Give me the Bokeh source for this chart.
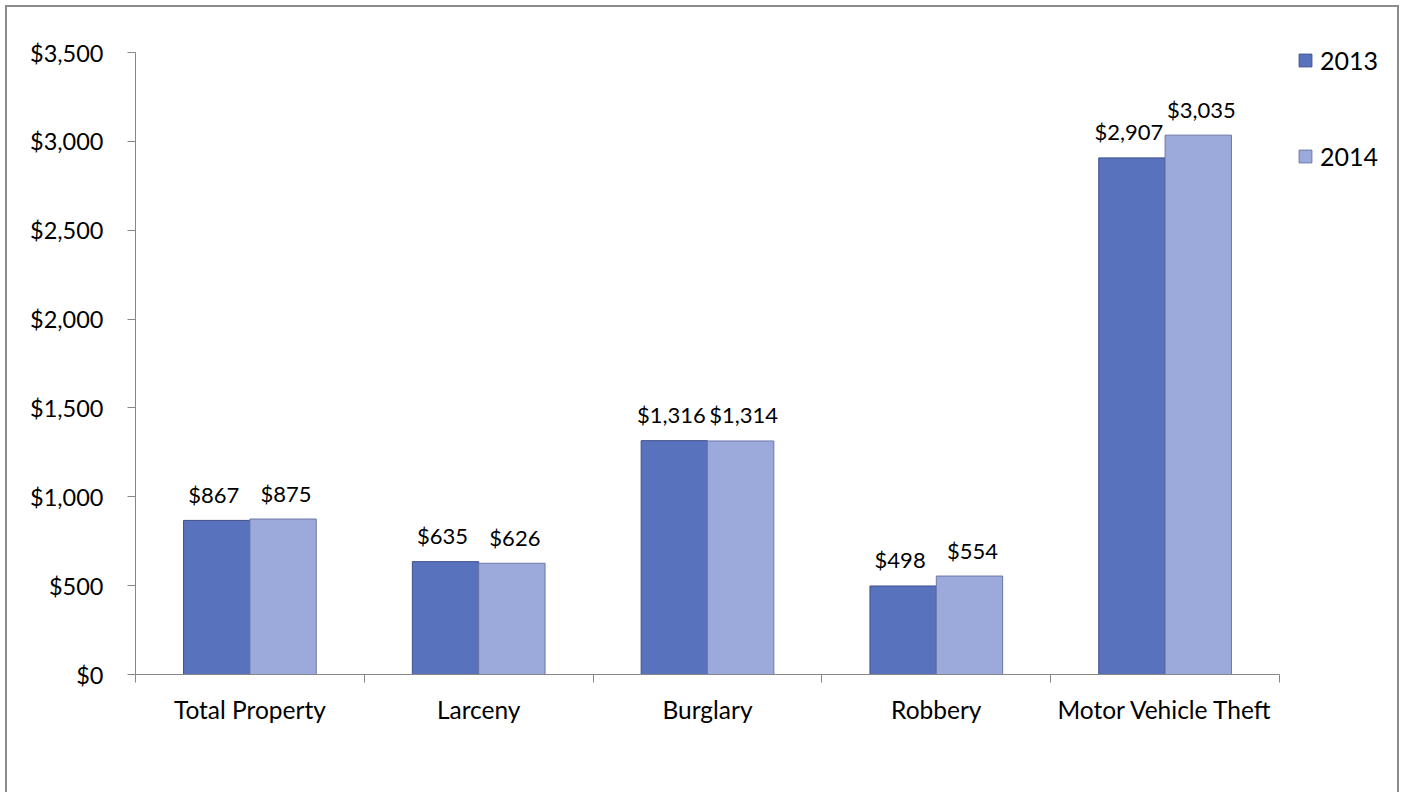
from bokeh.plotting import figure
from bokeh.models import (ColumnDataSource, Range1d, FixedTicker, NumeralTickFormatter,
                          Legend, LegendItem)
from bokeh.core.properties import value
from bokeh.embed import file_html
from bokeh.resources import INLINE

categories = ["Total Property", "Larceny", "Burglary", "Robbery", "Motor Vehicle Theft"]
years = ["2013", "2014"]
values_2013 = [867, 635, 1316, 498, 2907]
values_2014 = [875, 626, 1314, 554, 3035]
y_ticks = [0, 500, 1000, 1500, 2000, 2500, 3000, 3500]

FONT = "Lato"
BAR_W = 0.29
n = len(categories)
centers = [i + 0.5 for i in range(n)]
y_max = y_ticks[-1]

src13 = ColumnDataSource(dict(x=[c - BAR_W / 2 for c in centers], top=values_2013,
                              lbl=["${:,}".format(v) for v in values_2013]))
src14 = ColumnDataSource(dict(x=[c + BAR_W / 2 for c in centers], top=values_2014,
                              lbl=["${:,}".format(v) for v in values_2014]))

# The frame is a little larger than the axes (axis bounds limit the drawn
# lines) so that the legend sits inside it without being clipped.
p = figure(width=1394, height=787, output_backend="svg", toolbar_location=None,
           x_range=Range1d(0, n * 1261 / 1144),
           y_range=Range1d(0, y_max * 644 / 622),
           min_border_left=128, min_border_top=23, min_border_bottom=120,
           min_border_right=5)
p.outline_line_color = None
p.xgrid.visible = False
p.ygrid.visible = False
p.styles = {"border-top": "2px solid #8c8c8c", "border-left": "2px solid #8c8c8c",
            "border-right": "2px solid #8c8c8c", "margin": "5px 0 0 5px"}

r13 = p.vbar(x="x", top="top", width=BAR_W, source=src13, fill_color="#5872BE",
             line_color="#3E5089", line_width=1)
r14 = p.vbar(x="x", top="top", width=BAR_W, source=src14, fill_color="#9CA9DB",
             line_color="#6C78A6", line_width=1)

for s, dx in ((src13, -3), (src14, 3)):
    p.text(x="x", y="top", text="lbl", source=s, text_align="center",
           text_baseline="alphabetic", x_offset=dx, y_offset=-26,
           text_font=value(FONT), text_font_size="22px", text_color="#000000")

# axes
xa = p.xaxis[0]
xa.bounds = (0, n)
xa.ticker = FixedTicker(ticks=centers, minor_ticks=list(range(n + 1)))
xa.major_label_overrides = {c: name for c, name in zip(centers, categories)}
xa.major_tick_line_color = None
xa.minor_tick_line_color = "#868686"
xa.minor_tick_out = 8
xa.minor_tick_in = 0
xa.axis_line_color = "#868686"
xa.major_label_text_font = FONT
xa.major_label_text_font_size = "24.5px"
xa.major_label_text_color = "#000000"
xa.major_label_standoff = 12

ya = p.yaxis[0]
ya.bounds = (0, y_max)
ya.ticker = FixedTicker(ticks=y_ticks)
ya.formatter = NumeralTickFormatter(format="$0,0")
ya.major_tick_out = 8
ya.major_tick_in = 0
ya.minor_tick_line_color = None
ya.major_tick_line_color = "#868686"
ya.axis_line_color = "#868686"
ya.major_label_text_font = FONT
ya.major_label_text_font_size = "23.5px"
ya.major_label_text_color = "#000000"
ya.major_label_standoff = 24

legend = Legend(items=[LegendItem(label=years[0], renderers=[r13]),
                       LegendItem(label=years[1], renderers=[r14])],
                location=(1162, 503), orientation="vertical",
                glyph_width=16, glyph_height=16, label_height=28,
                label_text_font=FONT, label_text_font_size="25px",
                label_text_color="#000000", label_text_baseline="middle",
                spacing=66, border_line_alpha=0, background_fill_alpha=0,
                padding=0, margin=0, label_standoff=7)
p.add_layout(legend, "center")

open("out.html", "w").write(file_html(p, INLINE))
